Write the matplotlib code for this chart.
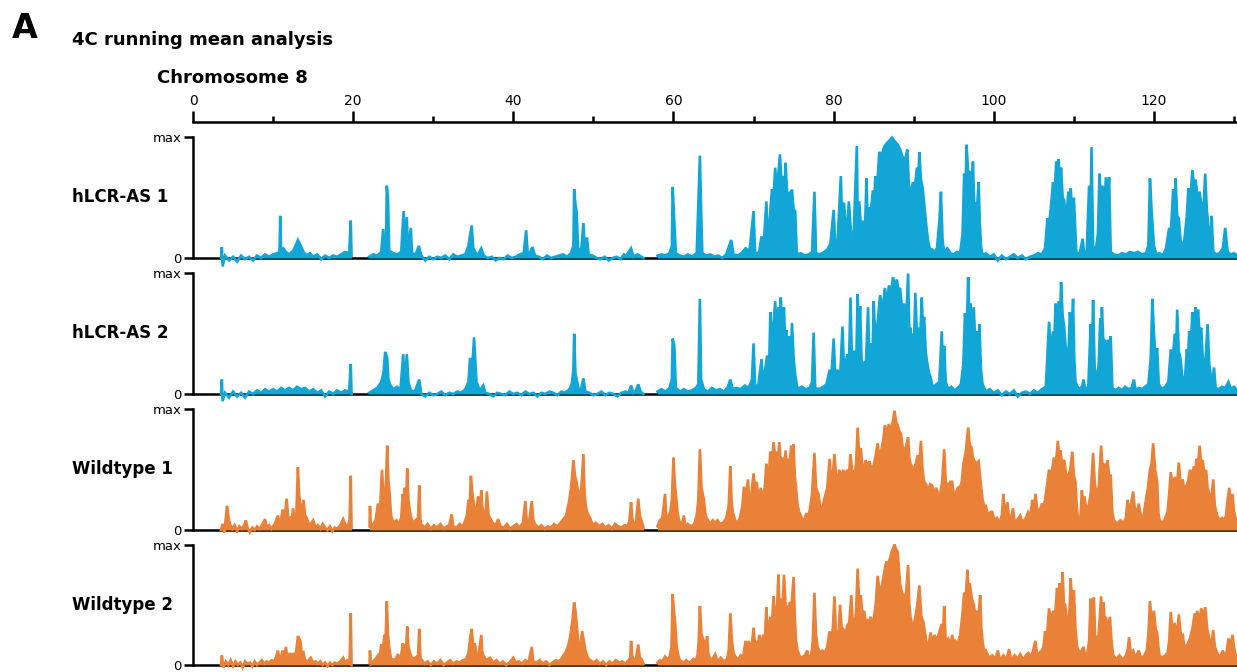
import numpy as np
import matplotlib
matplotlib.use("Agg")
import matplotlib.pyplot as plt

nan = np.nan

# 4C running mean per track: (position in Mb, signal in % of track max)
hlcr_as_1 = [
    (3.5, 0), (3.6, 9), (3.7, -7), (4.0, 2), (4.5, -2), (5.0, 1), (5.5, -3), (6.0, 2), (6.5, -1), (7.0, 1),
    (7.5, -2), (8.0, 2), (8.5, 0), (9.0, 3), (9.5, 1), (10.0, 3), (10.5, 4), (10.8, 5), (10.9, 35), (11.0, 6),
    (11.3, 8), (11.6, 5), (12.0, 3), (12.5, 6), (12.8, 10), (13.1, 15), (13.4, 11), (13.8, 5), (14.2, 2), (14.6, 4),
    (15.0, 1), (15.5, 3), (16.0, -1), (16.5, 2), (17.0, 0), (17.5, 2), (18.0, 1), (18.5, 3), (19.0, 5), (19.5, 4),
    (19.7, 31), (19.8, 2), (20.9, nan), (22.0, 1), (22.5, 3), (23.0, 2), (23.5, 5), (23.75, 24), (23.9, 4), (24.1, 10),
    (24.2, 60), (24.35, 50), (24.5, 6), (25.0, 4), (25.5, 3), (26.0, 5), (26.3, 39), (26.45, 6), (26.7, 34), (26.85, 6),
    (27.2, 25), (27.35, 4), (27.8, 3), (28.2, 10), (28.5, 2), (29.0, -2), (29.5, 1), (30.0, -1), (30.5, 1), (31.0, 0),
    (31.5, 2), (32.0, -1), (32.5, 3), (33.0, 1), (33.5, 2), (34.0, 3), (34.4, 10), (34.5, 15), (34.8, 27), (35.0, 8),
    (35.5, 2), (36.0, 8), (36.3, 2), (36.8, 0), (37.3, 1), (37.8, -2), (38.3, 0), (38.8, -1), (39.3, 2), (39.8, 0),
    (40.3, 1), (40.8, 3), (41.3, 4), (41.6, 23), (41.8, 3), (42.1, 5), (42.4, 9), (42.7, 2), (43.2, 1), (43.7, -1),
    (44.2, 2), (44.7, 0), (45.2, 1), (45.7, 2), (46.2, 3), (46.7, 1), (47.2, 4), (47.5, 10), (47.6, 57), (47.75, 45),
    (47.9, 39), (48.1, 6), (48.5, 8), (48.75, 29), (48.9, 10), (49.2, 17), (49.4, 3), (49.9, 2), (50.4, 0), (50.9, -1),
    (51.4, 1), (51.9, -2), (52.4, 0), (52.9, 1), (53.4, -1), (53.8, 3), (54.1, 2), (54.7, 8), (55.0, 1), (55.5, 3),
    (56.0, 1), (56.25, 0), (57.0, nan), (58.0, 2), (58.5, 3), (59.0, 2), (59.5, 4), (59.8, 10), (59.9, 59), (60.1, 30),
    (60.3, 4), (60.8, 2), (61.3, 1), (61.8, 3), (62.3, 1), (62.9, 4), (63.3, 85), (63.45, 40), (63.6, 4), (64.1, 2),
    (64.6, 3), (65.1, 1), (65.6, 2), (66.1, 0), (66.6, 3), (67.2, 15), (67.5, 3), (68.0, 2), (68.5, 4), (69.0, 8),
    (69.5, 6), (70.0, 39), (70.2, 3), (70.7, 5), (71.0, 18), (71.2, 4), (71.6, 47), (71.8, 10), (72.1, 40), (72.3, 57),
    (72.5, 50), (72.7, 75), (72.9, 55), (73.1, 70), (73.3, 86), (73.5, 60), (73.7, 68), (73.85, 55), (74.0, 79), (74.2, 52),
    (74.5, 54), (74.65, 40), (74.8, 57), (75.0, 40), (75.2, 39), (75.4, 3), (75.9, 4), (76.4, 2), (76.9, 3), (77.3, 5),
    (77.6, 55), (77.8, 4), (78.3, 3), (78.8, 5), (79.2, 7), (79.6, 12), (80.0, 40), (80.2, 10), (80.5, 15), (80.9, 68),
    (81.1, 20), (81.3, 46), (81.6, 15), (81.9, 47), (82.2, 18), (82.5, 20), (82.9, 93), (83.0, 30), (83.2, 47), (83.45, 20),
    (83.7, 31), (83.9, 20), (84.1, 66), (84.25, 30), (84.4, 42), (84.6, 35), (84.9, 56), (85.05, 40), (85.2, 68), (85.4, 55),
    (85.7, 88), (86.0, 85), (86.3, 92), (86.6, 95), (86.9, 97), (87.3, 100), (87.6, 97), (88.0, 94), (88.3, 90), (88.5, 86),
    (88.8, 80), (89.0, 84), (89.2, 90), (89.4, 60), (89.6, 53), (89.9, 63), (90.1, 55), (90.4, 75), (90.55, 60), (90.7, 88),
    (90.9, 65), (91.1, 59), (91.4, 39), (91.6, 25), (91.8, 14), (92.0, 8), (92.3, 7), (92.6, 5), (92.9, 8), (93.2, 30),
    (93.4, 55), (93.6, 15), (93.8, 5), (94.2, 8), (94.6, 4), (95.0, 3), (95.4, 5), (95.8, 4), (96.1, 20), (96.3, 70),
    (96.45, 50), (96.6, 94), (96.8, 70), (97.0, 72), (97.2, 55), (97.4, 80), (97.55, 45), (97.7, 45), (97.9, 40), (98.1, 63),
    (98.25, 30), (98.4, 10), (98.6, 2), (99.0, 4), (99.5, 1), (100.0, 3), (100.5, -2), (101.0, 2), (101.5, -1), (102.0, 1),
    (102.5, 3), (103.0, 0), (103.5, 2), (104.0, -1), (104.5, 1), (105.0, 2), (105.5, 4), (106.0, 3), (106.4, 8), (106.7, 33),
    (106.9, 28), (107.1, 40), (107.4, 63), (107.6, 55), (107.8, 80), (107.95, 70), (108.1, 82), (108.25, 60), (108.4, 75),
    (108.6, 50), (108.8, 48), (109.0, 25), (109.3, 55), (109.45, 40), (109.6, 58), (109.8, 35), (110.0, 50), (110.3, 5),
    (110.7, 3), (111.1, 16), (111.3, 3), (111.6, 5), (111.9, 60), (112.05, 15), (112.2, 92), (112.4, 10), (112.7, 5),
    (113.0, 20), (113.2, 70), (113.4, 45), (113.6, 60), (113.8, 40), (114.0, 67), (114.2, 40), (114.4, 67), (114.6, 5),
    (115.0, 3), (115.5, 2), (116.0, 4), (116.5, 3), (117.0, 5), (117.5, 4), (118.0, 5), (118.5, 3), (119.0, 4), (119.3, 10),
    (119.5, 66), (119.7, 40), (120.0, 10), (120.3, 3), (120.7, 4), (121.1, 2), (121.5, 8), (121.9, 25), (122.1, 20),
    (122.4, 57), (122.55, 40), (122.7, 66), (122.9, 35), (123.1, 33), (123.4, 8), (123.8, 15), (124.1, 35), (124.3, 58),
    (124.5, 45), (124.8, 73), (125.0, 60), (125.2, 65), (125.45, 50), (125.7, 55), (125.9, 45), (126.1, 30), (126.4, 70),
    (126.6, 40), (126.9, 20), (127.05, 10), (127.2, 35), (127.4, 5), (127.8, 3), (128.2, 4), (128.6, 8), (128.9, 25),
    (129.2, 5), (129.6, 3), (130.0, 4), (130.4, 2),
]

hlcr_as_2 = [
    (3.5, 0), (3.6, 12), (3.7, -6), (4.0, 1), (4.5, -3), (5.0, 2), (5.5, -2), (6.0, 1), (6.5, -3), (7.0, 2),
    (7.5, 0), (8.0, 3), (8.5, 1), (9.0, 4), (9.5, 2), (10.0, 4), (10.5, 2), (11.0, 5), (11.5, 3), (12.0, 5),
    (12.5, 3), (13.0, 6), (13.5, 4), (14.0, 5), (14.5, 2), (15.0, 4), (15.5, 1), (16.0, 3), (16.5, -2), (17.0, 2),
    (17.5, 0), (18.0, 3), (18.5, 1), (19.0, 3), (19.5, 2), (19.7, 25), (19.8, 0), (20.9, nan), (22.0, 1), (22.5, 3),
    (23.0, 5), (23.5, 10), (23.8, 18), (24.0, 35), (24.25, 30), (24.4, 12), (24.6, 8), (25.0, 4), (25.5, 6), (25.9, 3),
    (26.25, 33), (26.45, 6), (26.7, 33), (26.9, 10), (27.2, 3), (27.7, 2), (28.25, 12), (28.5, 0), (29.0, -2), (29.5, 1),
    (30.0, -1), (30.5, 0), (31.0, 2), (31.5, -1), (32.0, 1), (32.5, 0), (33.0, 2), (33.5, 1), (34.0, 4), (34.4, 10),
    (34.6, 30), (34.8, 15), (35.1, 47), (35.4, 10), (35.8, 3), (36.25, 7), (36.5, 1), (37.0, 0), (37.5, -2), (38.0, 1),
    (38.5, 0), (39.0, -1), (39.5, 2), (40.0, 0), (40.5, 1), (41.0, -1), (41.5, 2), (42.0, 0), (42.5, 1), (43.0, -2),
    (43.5, 1), (44.0, 0), (44.5, 2), (45.0, 1), (45.5, -1), (46.0, 2), (46.5, 1), (47.0, 4), (47.3, 8), (47.5, 20),
    (47.6, 50), (47.75, 18), (47.9, 12), (48.2, 3), (48.5, 5), (48.75, 13), (49.0, 2), (49.5, 1), (50.0, -1), (50.5, 0),
    (51.0, 2), (51.5, -1), (52.0, 1), (52.5, 0), (53.0, -2), (53.5, 1), (54.0, 2), (54.4, 1), (54.7, 7), (55.0, 1),
    (55.3, 3), (55.6, 8), (55.9, 2), (56.25, 0), (57.0, nan), (58.0, 2), (58.5, 4), (59.0, 2), (59.5, 5), (59.8, 12),
    (59.9, 46), (60.1, 40), (60.3, 5), (60.8, 2), (61.3, 4), (61.8, 2), (62.3, 3), (62.8, 5), (63.1, 8), (63.3, 79),
    (63.45, 12), (63.8, 4), (64.3, 2), (64.8, 5), (65.3, 3), (65.8, 4), (66.3, 2), (66.8, 6), (67.1, 12), (67.4, 4),
    (67.9, 5), (68.4, 4), (68.9, 7), (69.4, 5), (69.8, 12), (70.0, 42), (70.2, 5), (70.6, 8), (71.0, 29), (71.2, 8),
    (71.7, 32), (71.9, 10), (72.1, 68), (72.3, 40), (72.7, 77), (72.9, 50), (73.1, 72), (73.25, 50), (73.4, 80), (73.6, 55),
    (73.8, 72), (73.95, 40), (74.1, 53), (74.3, 35), (74.5, 48), (74.65, 30), (74.8, 59), (75.0, 30), (75.2, 16), (75.5, 4),
    (76.0, 6), (76.5, 4), (77.0, 5), (77.3, 10), (77.5, 51), (77.7, 5), (78.2, 4), (78.7, 6), (79.1, 8), (79.5, 20),
    (79.7, 12), (80.0, 46), (80.2, 15), (80.5, 20), (80.8, 12), (81.1, 56), (81.3, 20), (81.7, 33), (81.9, 20), (82.1, 80),
    (82.3, 25), (82.6, 36), (82.8, 20), (83.0, 83), (83.15, 40), (83.3, 73), (83.5, 25), (83.8, 26), (84.0, 20), (84.3, 72),
    (84.45, 30), (84.7, 42), (84.85, 30), (85.0, 77), (85.2, 45), (85.5, 60), (85.8, 82), (86.1, 70), (86.4, 88), (86.65, 75),
    (86.9, 90), (87.2, 85), (87.4, 97), (87.65, 90), (87.9, 95), (88.1, 85), (88.3, 88), (88.55, 70), (88.8, 75), (89.05, 60),
    (89.3, 100), (89.45, 50), (89.6, 55), (89.75, 40), (89.9, 50), (90.05, 45), (90.2, 84), (90.4, 50), (90.6, 55), (90.8, 45),
    (91.0, 80), (91.15, 55), (91.3, 64), (91.5, 35), (91.7, 25), (91.9, 18), (92.1, 14), (92.4, 5), (92.8, 8), (93.2, 10),
    (93.5, 52), (93.65, 20), (93.8, 40), (94.0, 10), (94.3, 4), (94.7, 6), (95.1, 3), (95.5, 5), (95.9, 8), (96.2, 25),
    (96.4, 67), (96.6, 50), (96.8, 97), (96.95, 60), (97.1, 75), (97.3, 50), (97.5, 72), (97.7, 40), (97.9, 52), (98.05, 35),
    (98.2, 58), (98.4, 20), (98.6, 8), (99.0, 2), (99.5, 4), (100.0, 1), (100.5, 3), (101.0, -1), (101.5, 2), (102.0, 0),
    (102.5, 3), (103.0, -2), (103.5, 1), (104.0, 2), (104.5, 0), (105.0, 3), (105.5, 1), (106.0, 4), (106.5, 6), (106.9, 60),
    (107.1, 35), (107.4, 52), (107.55, 40), (107.7, 75), (107.9, 60), (108.1, 77), (108.25, 60), (108.4, 93), (108.6, 65),
    (108.8, 55), (108.95, 40), (109.1, 35), (109.3, 30), (109.5, 68), (109.7, 50), (109.9, 79), (110.05, 30), (110.2, 10),
    (110.6, 4), (111.0, 6), (111.2, 12), (111.4, 4), (111.8, 6), (112.1, 58), (112.25, 30), (112.4, 78), (112.6, 20),
    (112.9, 15), (113.1, 25), (113.3, 63), (113.4, 40), (113.5, 72), (113.7, 40), (113.9, 45), (114.1, 30), (114.3, 45),
    (114.45, 25), (114.6, 48), (114.8, 5), (115.2, 3), (115.6, 5), (116.0, 3), (116.4, 6), (116.8, 4), (117.2, 5),
    (117.5, 12), (117.7, 3), (118.1, 5), (118.5, 4), (118.9, 6), (119.3, 8), (119.6, 30), (119.8, 79), (120.0, 50),
    (120.2, 30), (120.4, 38), (120.6, 8), (121.0, 4), (121.4, 6), (121.8, 10), (122.1, 37), (122.3, 25), (122.6, 50),
    (122.75, 30), (122.9, 70), (123.1, 35), (123.3, 30), (123.6, 10), (123.9, 15), (124.1, 37), (124.25, 30), (124.4, 52),
    (124.6, 40), (124.8, 68), (125.0, 50), (125.2, 72), (125.35, 55), (125.5, 70), (125.7, 50), (125.9, 55), (126.05, 35),
    (126.2, 20), (126.45, 30), (126.7, 58), (126.9, 25), (127.1, 15), (127.3, 10), (127.5, 22), (127.7, 5), (128.1, 4),
    (128.5, 6), (128.9, 5), (129.3, 10), (129.6, 4), (130.0, 6), (130.4, 3),
]

wildtype_1 = [
    (3.5, 0), (3.7, 5), (3.9, -2), (4.1, 10), (4.25, 20), (4.4, 12), (4.6, 5), (4.9, 1), (5.2, 4), (5.5, -1),
    (5.8, 3), (6.1, 1), (6.4, 4), (6.6, 8), (6.8, 2), (7.1, -2), (7.4, 2), (7.7, 0), (8.0, 3), (8.3, 1),
    (8.6, 4), (9.0, 9), (9.2, 2), (9.5, 4), (9.8, 1), (10.2, 5), (10.6, 12), (10.8, 6), (11.0, 9), (11.2, 17),
    (11.4, 8), (11.7, 26), (11.9, 9), (12.1, 10), (12.3, 6), (12.5, 18), (12.7, 8), (12.9, 12), (13.1, 52), (13.25, 30),
    (13.4, 20), (13.6, 15), (13.8, 25), (14.0, 12), (14.2, 10), (14.5, 4), (14.8, 6), (15.0, 8), (15.3, 2), (15.6, 4),
    (15.9, 1), (16.2, 5), (16.5, 2), (16.8, 0), (17.1, 3), (17.4, -1), (17.7, 2), (18.0, 1), (18.4, 4), (18.75, 9),
    (19.0, 5), (19.3, 3), (19.55, 8), (19.7, 45), (19.8, 2), (20.9, nan), (22.05, 3), (22.1, 20), (22.2, 2), (22.5, 5),
    (22.8, 8), (23.1, 22), (23.3, 10), (23.6, 50), (23.8, 25), (24.0, 30), (24.1, 40), (24.25, 70), (24.4, 40), (24.5, 35),
    (24.7, 15), (24.8, 10), (25.1, 6), (25.4, 8), (25.7, 5), (26.0, 10), (26.2, 30), (26.3, 15), (26.4, 35), (26.6, 20),
    (26.75, 51), (26.9, 25), (27.1, 15), (27.4, 6), (27.8, 8), (28.1, 10), (28.25, 37), (28.4, 8), (28.5, 5), (28.9, 2),
    (29.3, 5), (29.7, 1), (30.1, 4), (30.5, 2), (30.9, 5), (31.3, 1), (31.7, 3), (32.0, 4), (32.3, 13), (32.5, 3),
    (32.9, 2), (33.3, 5), (33.7, 3), (34.0, 8), (34.2, 12), (34.4, 25), (34.55, 18), (34.7, 45), (34.9, 30), (35.1, 20),
    (35.3, 12), (35.6, 28), (35.8, 15), (36.0, 33), (36.1, 20), (36.25, 15), (36.5, 10), (36.7, 32), (36.9, 12), (37.1, 10),
    (37.4, 6), (37.8, 4), (38.1, 9), (38.4, 3), (38.8, 2), (39.2, 5), (39.6, 1), (40.0, 3), (40.4, 5), (40.8, 2),
    (41.2, 6), (41.5, 24), (41.7, 5), (42.0, 8), (42.3, 24), (42.5, 8), (42.7, 5), (43.1, 2), (43.5, 4), (43.9, 1),
    (44.3, 3), (44.7, 2), (45.1, 5), (45.5, 3), (45.9, 6), (46.25, 9), (46.6, 12), (47.0, 25), (47.2, 35), (47.35, 45),
    (47.5, 58), (47.7, 45), (47.9, 40), (48.1, 30), (48.3, 30), (48.5, 35), (48.75, 63), (48.9, 30), (49.05, 20), (49.2, 15),
    (49.4, 12), (49.6, 10), (49.9, 4), (50.3, 6), (50.7, 3), (51.1, 5), (51.5, 2), (51.9, 4), (52.3, 1), (52.7, 5),
    (53.1, 3), (53.5, 2), (53.9, 4), (54.3, 3), (54.5, 8), (54.7, 23), (54.85, 10), (55.0, 5), (55.3, 6), (55.6, 26),
    (55.8, 12), (56.0, 8), (56.25, 2), (57.0, nan), (58.0, 3), (58.3, 8), (58.6, 10), (58.95, 30), (59.1, 10), (59.3, 10),
    (59.6, 15), (59.8, 25), (60.0, 60), (60.15, 40), (60.3, 30), (60.5, 15), (60.7, 8), (61.0, 3), (61.3, 12), (61.5, 2),
    (61.8, 5), (62.2, 3), (62.6, 5), (62.9, 12), (63.1, 25), (63.3, 67), (63.5, 35), (63.8, 25), (64.0, 12), (64.3, 8),
    (64.6, 5), (64.9, 8), (65.2, 6), (65.5, 8), (65.8, 5), (66.2, 6), (66.6, 10), (66.9, 20), (67.1, 53), (67.25, 25),
    (67.4, 15), (67.7, 8), (68.0, 6), (68.3, 10), (68.6, 20), (68.8, 36), (69.0, 25), (69.3, 42), (69.45, 25), (69.6, 20),
    (69.8, 35), (70.0, 47), (70.2, 30), (70.4, 40), (70.6, 25), (70.9, 35), (71.05, 25), (71.2, 30), (71.4, 35), (71.6, 55),
    (71.7, 40), (71.8, 40), (71.95, 50), (72.1, 65), (72.3, 55), (72.5, 73), (72.7, 60), (72.9, 65), (73.05, 55), (73.2, 73),
    (73.4, 55), (73.6, 60), (73.8, 50), (74.0, 66), (74.15, 50), (74.3, 59), (74.5, 55), (74.7, 70), (74.85, 60), (75.0, 71),
    (75.15, 45), (75.3, 35), (75.5, 20), (75.7, 15), (76.0, 10), (76.3, 8), (76.6, 14), (76.8, 8), (77.1, 20), (77.3, 30),
    (77.6, 64), (77.8, 35), (78.1, 30), (78.3, 20), (78.5, 15), (78.8, 25), (79.0, 30), (79.2, 35), (79.5, 59), (79.7, 40),
    (79.9, 45), (80.1, 63), (80.3, 45), (80.5, 40), (80.7, 50), (81.0, 43), (81.2, 50), (81.4, 45), (81.7, 50), (81.9, 45),
    (82.1, 63), (82.3, 50), (82.6, 45), (82.8, 55), (83.0, 85), (83.2, 60), (83.4, 68), (83.6, 50), (83.8, 52), (84.0, 58),
    (84.2, 52), (84.35, 55), (84.5, 57), (84.7, 50), (85.0, 54), (85.2, 60), (85.5, 72), (85.7, 60), (86.0, 68), (86.2, 75),
    (86.4, 87), (86.65, 80), (86.9, 88), (87.05, 82), (87.2, 85), (87.4, 90), (87.6, 99), (87.8, 90), (88.0, 87), (88.2, 82),
    (88.4, 80), (88.6, 70), (88.8, 65), (89.0, 68), (89.3, 77), (89.45, 60), (89.6, 55), (89.8, 52), (90.0, 50), (90.25, 55),
    (90.5, 62), (90.7, 55), (90.9, 74), (91.1, 50), (91.3, 40), (91.55, 38), (91.8, 32), (92.05, 38), (92.3, 37), (92.55, 30),
    (92.8, 35), (93.05, 30), (93.3, 30), (93.55, 40), (93.8, 67), (94.0, 40), (94.3, 36), (94.55, 40), (94.8, 40), (95.0, 30),
    (95.2, 30), (95.5, 35), (95.8, 36), (96.0, 40), (96.2, 55), (96.5, 65), (96.8, 85), (97.0, 70), (97.2, 69), (97.4, 60),
    (97.6, 57), (97.85, 55), (98.1, 57), (98.35, 40), (98.6, 25), (98.8, 20), (99.0, 20), (99.3, 12), (99.6, 15), (99.8, 15),
    (100.1, 8), (100.4, 10), (100.7, 6), (101.0, 12), (101.2, 30), (101.4, 12), (101.7, 23), (101.9, 10), (102.1, 8),
    (102.4, 18), (102.6, 6), (103.0, 9), (103.3, 12), (103.6, 6), (104.0, 10), (104.3, 15), (104.6, 12), (104.8, 25),
    (105.0, 15), (105.2, 30), (105.4, 18), (105.7, 15), (106.0, 22), (106.2, 18), (106.4, 25), (106.6, 35), (106.9, 50),
    (107.2, 45), (107.5, 60), (107.75, 55), (108.0, 74), (108.15, 60), (108.3, 66), (108.55, 55), (108.8, 58), (109.05, 45),
    (109.3, 45), (109.55, 50), (109.8, 65), (110.0, 45), (110.2, 40), (110.35, 20), (110.5, 10), (110.8, 8), (111.0, 33),
    (111.15, 20), (111.3, 28), (111.6, 15), (111.9, 22), (112.1, 30), (112.4, 64), (112.6, 40), (112.8, 30), (113.1, 35),
    (113.4, 70), (113.6, 50), (113.8, 55), (114.0, 50), (114.2, 58), (114.4, 45), (114.6, 45), (114.8, 15), (115.0, 8),
    (115.4, 5), (115.8, 8), (116.2, 6), (116.5, 10), (116.7, 25), (116.9, 15), (117.1, 20), (117.4, 32), (117.6, 18),
    (117.9, 15), (118.1, 22), (118.4, 10), (118.7, 12), (119.0, 25), (119.25, 35), (119.5, 50), (119.7, 55), (119.9, 72),
    (120.15, 50), (120.4, 40), (120.55, 15), (120.7, 8), (121.0, 6), (121.3, 8), (121.7, 15), (121.9, 30), (122.1, 48),
    (122.35, 35), (122.6, 44), (122.85, 35), (123.1, 56), (123.35, 35), (123.6, 42), (123.8, 30), (124.0, 36), (124.25, 40),
    (124.5, 50), (124.75, 45), (125.0, 53), (125.15, 45), (125.3, 59), (125.5, 55), (125.7, 70), (125.9, 55), (126.1, 58),
    (126.3, 45), (126.5, 50), (126.7, 35), (126.9, 30), (127.15, 25), (127.4, 42), (127.6, 20), (127.9, 12), (128.2, 8),
    (128.5, 10), (128.8, 8), (129.0, 12), (129.2, 25), (129.4, 35), (129.6, 20), (129.8, 30), (130.0, 15), (130.2, 10),
    (130.4, 8),
]

wildtype_2 = [
    (3.5, 0), (3.6, 8), (3.8, -2), (4.1, 3), (4.4, 0), (4.7, 4), (5.0, -1), (5.3, 3), (5.6, 0), (5.9, 2),
    (6.2, -2), (6.5, 3), (6.8, 1), (7.1, 2), (7.4, -1), (7.7, 3), (8.0, 0), (8.3, 2), (8.6, 4), (8.9, 1),
    (9.2, 3), (9.5, 2), (9.8, 4), (10.2, 3), (10.6, 12), (10.8, 5), (11.0, 7), (11.2, 12), (11.4, 6), (11.6, 15),
    (11.8, 5), (12.1, 10), (12.3, 4), (12.5, 10), (12.7, 5), (12.9, 12), (13.1, 24), (13.25, 22), (13.4, 20), (13.6, 8),
    (13.8, 10), (14.0, 4), (14.3, 3), (14.7, 6), (15.0, 2), (15.3, 3), (15.6, 1), (15.9, 3), (16.2, 0), (16.5, 2),
    (16.8, -1), (17.1, 2), (17.4, 0), (17.7, 2), (18.0, 1), (18.4, 3), (18.75, 6), (19.0, 2), (19.3, 4), (19.55, 3),
    (19.7, 43), (19.8, 0), (20.9, nan), (22.05, 2), (22.1, 12), (22.2, 1), (22.5, 3), (22.8, 5), (23.1, 8), (23.3, 5),
    (23.5, 17), (23.7, 10), (23.9, 25), (24.05, 20), (24.2, 53), (24.35, 25), (24.5, 15), (24.7, 6), (25.0, 4), (25.3, 5),
    (25.6, 9), (25.8, 4), (26.0, 8), (26.2, 18), (26.35, 10), (26.5, 17), (26.6, 12), (26.75, 32), (26.9, 15), (27.1, 10),
    (27.4, 5), (27.8, 6), (28.1, 8), (28.25, 30), (28.4, 6), (28.5, 5), (28.9, 1), (29.3, 3), (29.7, 0), (30.1, 3),
    (30.5, 1), (30.9, 4), (31.3, 0), (31.7, 2), (32.1, 4), (32.5, 1), (32.9, 3), (33.3, 2), (33.7, 4), (34.1, 5),
    (34.4, 10), (34.6, 22), (34.8, 30), (35.0, 15), (35.2, 18), (35.4, 8), (35.7, 10), (36.0, 25), (36.1, 12), (36.25, 8),
    (36.6, 4), (37.1, 6), (37.5, 2), (37.9, 4), (38.3, 1), (38.7, 3), (39.1, 0), (39.5, 2), (40.0, 6), (40.3, 2),
    (40.7, 3), (41.1, 1), (41.5, 4), (41.9, 2), (42.3, 15), (42.5, 3), (42.9, 2), (43.3, 4), (43.7, 1), (44.1, 3),
    (44.5, 0), (44.9, 2), (45.3, 4), (45.7, 3), (46.0, 5), (46.25, 8), (46.5, 10), (46.8, 15), (47.0, 20), (47.2, 28),
    (47.4, 38), (47.6, 52), (47.75, 45), (47.9, 35), (48.1, 20), (48.3, 15), (48.45, 20), (48.6, 28), (48.8, 20), (49.0, 12),
    (49.3, 6), (49.6, 4), (50.0, 2), (50.4, 4), (50.8, 1), (51.2, 3), (51.6, 0), (52.0, 3), (52.4, 1), (52.8, 4),
    (53.2, 2), (53.6, 3), (54.0, 1), (54.4, 4), (54.6, 6), (54.7, 20), (54.85, 8), (55.0, 4), (55.3, 5), (55.6, 17),
    (55.8, 6), (56.0, 5), (56.25, 1), (57.0, nan), (58.0, 2), (58.3, 4), (58.6, 3), (58.95, 7), (59.2, 5), (59.5, 6),
    (59.75, 15), (59.9, 59), (60.05, 45), (60.2, 36), (60.4, 15), (60.7, 5), (61.0, 3), (61.3, 2), (61.6, 4), (61.9, 2),
    (62.2, 3), (62.5, 5), (62.8, 4), (63.0, 8), (63.15, 20), (63.3, 49), (63.5, 25), (63.8, 20), (64.0, 12), (64.2, 24),
    (64.35, 10), (64.5, 6), (64.8, 4), (65.2, 9), (65.5, 3), (65.9, 6), (66.3, 3), (66.7, 5), (66.9, 12), (67.1, 43),
    (67.3, 20), (67.5, 10), (67.8, 6), (68.1, 5), (68.4, 8), (68.7, 6), (69.0, 20), (69.2, 10), (69.4, 20), (69.6, 12),
    (69.8, 18), (70.0, 31), (70.2, 15), (70.4, 20), (70.55, 12), (70.7, 25), (70.9, 15), (71.2, 25), (71.4, 20), (71.6, 48),
    (71.75, 30), (71.9, 30), (72.1, 40), (72.3, 35), (72.5, 57), (72.65, 40), (72.8, 45), (72.95, 50), (73.1, 75), (73.25, 45),
    (73.4, 55), (73.6, 45), (73.8, 75), (74.0, 50), (74.2, 48), (74.35, 40), (74.5, 52), (74.75, 50), (75.0, 73), (75.15, 40),
    (75.3, 20), (75.5, 12), (75.7, 8), (76.0, 6), (76.4, 8), (76.7, 12), (76.9, 6), (77.2, 8), (77.4, 20), (77.6, 60),
    (77.8, 25), (78.0, 15), (78.3, 10), (78.6, 12), (78.9, 10), (79.2, 15), (79.5, 28), (79.7, 20), (79.9, 30), (80.1, 57),
    (80.3, 25), (80.5, 20), (80.65, 30), (80.8, 50), (81.0, 30), (81.2, 30), (81.45, 25), (81.7, 33), (81.95, 35), (82.2, 58),
    (82.4, 35), (82.6, 30), (82.8, 45), (83.0, 80), (83.2, 50), (83.4, 58), (83.6, 40), (83.8, 45), (84.0, 35), (84.2, 37),
    (84.4, 35), (84.6, 40), (84.8, 35), (85.0, 38), (85.25, 50), (85.5, 74), (85.75, 60), (86.0, 65), (86.2, 72), (86.4, 80),
    (86.6, 86), (86.75, 82), (86.9, 86), (87.1, 90), (87.3, 95), (87.45, 97), (87.6, 100), (87.8, 96), (88.0, 94), (88.15, 80),
    (88.3, 67), (88.55, 60), (88.8, 55), (89.05, 60), (89.3, 83), (89.45, 50), (89.6, 40), (89.75, 35), (89.9, 30), (90.05, 35),
    (90.2, 40), (90.45, 50), (90.7, 66), (90.95, 40), (91.2, 36), (91.45, 25), (91.7, 13), (91.9, 18), (92.1, 27), (92.35, 18),
    (92.6, 25), (92.85, 20), (93.1, 25), (93.3, 30), (93.5, 34), (93.65, 25), (93.8, 49), (94.0, 20), (94.3, 22), (94.55, 15),
    (94.8, 25), (95.0, 15), (95.2, 20), (95.5, 18), (95.8, 25), (96.05, 40), (96.3, 60), (96.5, 55), (96.7, 79), (96.85, 60),
    (97.0, 68), (97.25, 55), (97.5, 50), (97.7, 40), (97.9, 45), (98.1, 40), (98.3, 58), (98.45, 30), (98.6, 20), (98.8, 10),
    (99.0, 12), (99.4, 6), (99.8, 8), (100.2, 5), (100.5, 12), (100.8, 4), (101.2, 8), (101.6, 5), (101.9, 13), (102.2, 4),
    (102.6, 8), (103.0, 5), (103.3, 9), (103.7, 4), (104.0, 8), (104.3, 10), (104.6, 6), (104.9, 12), (105.2, 20), (105.4, 8),
    (105.7, 10), (106.0, 12), (106.2, 15), (106.4, 28), (106.6, 20), (106.9, 47), (107.15, 35), (107.4, 45), (107.65, 40),
    (107.9, 64), (108.05, 50), (108.2, 68), (108.4, 55), (108.6, 77), (108.75, 50), (108.9, 50), (109.1, 40), (109.3, 30),
    (109.45, 45), (109.6, 72), (109.8, 50), (110.0, 62), (110.2, 30), (110.4, 15), (110.7, 10), (111.0, 12), (111.2, 15),
    (111.4, 8), (111.7, 10), (111.9, 20), (112.1, 55), (112.3, 35), (112.5, 56), (112.65, 25), (112.8, 20), (113.1, 25),
    (113.4, 57), (113.55, 35), (113.7, 52), (113.85, 35), (114.0, 40), (114.25, 30), (114.5, 40), (114.7, 20), (114.9, 8),
    (115.3, 5), (115.7, 8), (116.1, 4), (116.5, 8), (116.7, 12), (116.9, 23), (117.1, 10), (117.4, 12), (117.7, 6),
    (118.1, 12), (118.4, 5), (118.8, 8), (119.1, 12), (119.3, 25), (119.5, 53), (119.75, 35), (120.0, 45), (120.2, 30),
    (120.4, 27), (120.55, 15), (120.7, 8), (121.0, 6), (121.4, 8), (121.7, 10), (121.9, 20), (122.1, 44), (122.35, 25),
    (122.6, 35), (122.85, 20), (123.1, 42), (123.35, 25), (123.6, 25), (123.8, 15), (124.0, 15), (124.25, 18), (124.5, 22),
    (124.8, 30), (125.1, 43), (125.25, 35), (125.4, 45), (125.65, 35), (125.9, 47), (126.15, 40), (126.4, 48), (126.65, 30),
    (126.9, 22), (127.15, 15), (127.4, 29), (127.6, 15), (127.9, 10), (128.2, 6), (128.6, 12), (128.9, 6), (129.1, 12),
    (129.3, 22), (129.55, 15), (129.8, 25), (130.0, 15), (130.2, 8), (130.4, 5),
]

track_labels = ["hLCR-AS 1", "hLCR-AS 2", "Wildtype 1", "Wildtype 2"]
track_data = [hlcr_as_1, hlcr_as_2, wildtype_1, wildtype_2]
chrom_major_ticks = [0, 20, 40, 60, 80, 100, 120]
chrom_minor_ticks = [10, 30, 50, 70, 90, 110, 130]

BLUE = "#12a6d6"
ORANGE = "#e98139"
track_colors = [BLUE, BLUE, ORANGE, ORANGE]

W, H = 1237, 672
X_LEFT, X_RIGHT = 193, 1237
PX_PER_MB = 8.008
BASELINES = [258, 394, 530, 665]
TRACK_PX = 120.5
YLO, YHI = -12, 102


def fx(px):
    return px / W


def fy(py):
    return 1 - py / H


def split_segments(points):
    x = np.array([p[0] for p in points], dtype=float)
    y = np.array([p[1] for p in points], dtype=float)
    breaks = np.where(np.isnan(y))[0]
    segs, start = [], 0
    for b in list(breaks) + [len(y)]:
        if b > start:
            segs.append((x[start:b], y[start:b]))
        start = b + 1
    return segs


def draw_track(fig, base_px, label, points, color):
    unit = TRACK_PX / 100.0
    bottom_px = base_px - YLO * unit
    top_px = base_px - YHI * unit
    ax = fig.add_axes([fx(X_LEFT), fy(bottom_px), fx(X_RIGHT - X_LEFT),
                       (bottom_px - top_px) / H])
    ax.set_xlim(0, (X_RIGHT - X_LEFT) / PX_PER_MB)
    ax.set_ylim(YLO, YHI)
    ax.patch.set_alpha(0)

    ax.axhline(0, color="black", lw=1.8, zorder=1)
    for sx, sy in split_segments(points):
        ax.fill_between(sx, 0, sy, color=color, lw=0, zorder=2)
        ax.plot(sx, sy, color=color, lw=1.9, zorder=3, solid_joinstyle="miter")

    for s in ["top", "right", "bottom"]:
        ax.spines[s].set_visible(False)
    ax.spines["left"].set_bounds(0, 100)
    ax.spines["left"].set_linewidth(1.8)
    ax.set_xticks([])
    ax.set_yticks([0, 100])
    ax.set_yticklabels(["0", "max"])
    ax.tick_params(axis="y", direction="out", length=6.5, width=1.8,
                   labelsize=9.5, pad=2)

    fig.text(fx(72), fy(base_px - 55.5), label, fontsize=12,
             fontweight="bold", va="baseline", ha="left")
    return ax


def draw_chrom_axis(fig):
    line_px = 122
    ax = fig.add_axes([fx(X_LEFT), fy(line_px) - 0.01, fx(X_RIGHT - X_LEFT), 0.01])
    ax.set_xlim(0, (X_RIGHT - X_LEFT) / PX_PER_MB)
    ax.patch.set_alpha(0)
    for s in ["left", "right", "bottom"]:
        ax.spines[s].set_visible(False)
    ax.spines["top"].set_linewidth(1.8)
    ax.set_yticks([])
    ax.xaxis.tick_top()
    ax.set_xticks(chrom_major_ticks)
    ax.set_xticks(chrom_minor_ticks, minor=True)
    ax.set_xticklabels([str(t) for t in chrom_major_ticks])
    ax.tick_params(axis="x", which="major", direction="out", length=8,
                   width=1.8, labelsize=10, pad=2)
    ax.tick_params(axis="x", which="minor", direction="out", length=4,
                   width=1.8)
    return ax


def main():
    fig = plt.figure(figsize=(W / 100, H / 100), dpi=100)

    fig.text(fx(12), fy(28), "A", fontsize=24, fontweight="bold",
             va="center", ha="left")
    fig.text(fx(72), fy(45), "4C running mean analysis", fontsize=13,
             fontweight="bold", va="baseline", ha="left")
    fig.text(fx(157), fy(83), "Chromosome 8", fontsize=13,
             fontweight="bold", va="baseline", ha="left")

    draw_chrom_axis(fig)
    for base, label, pts, col in zip(BASELINES, track_labels, track_data, track_colors):
        draw_track(fig, base, label, pts, col)

    fig.savefig("out.png", dpi=100)
    plt.close(fig)


if __name__ == "__main__":
    main()
